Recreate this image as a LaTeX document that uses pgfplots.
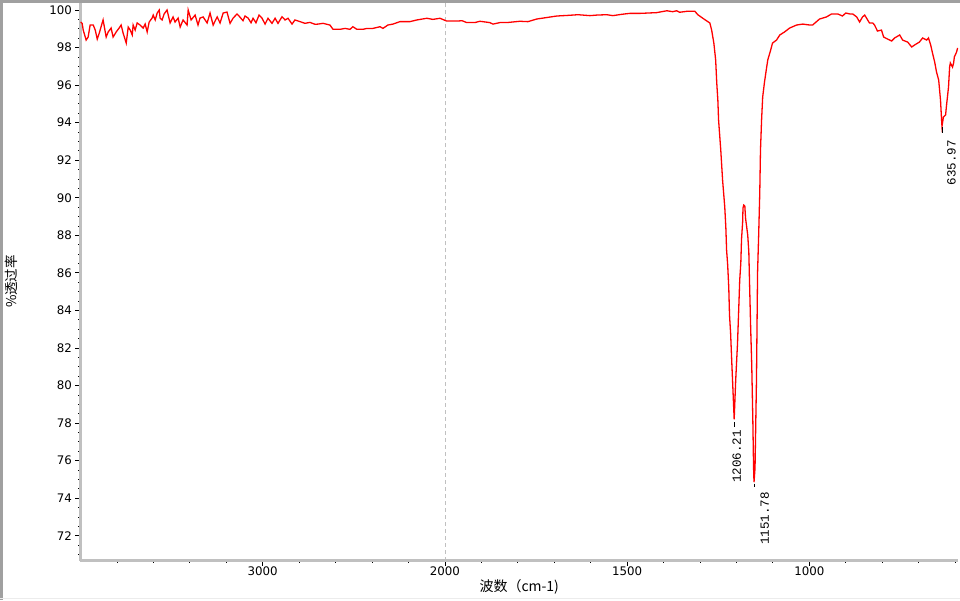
\documentclass[border=0pt]{standalone}
\usepackage{pgfplots}
\pgfplotsset{compat=1.18}
\usepackage{pgfplotstable}
\usepackage{fontspec}
\setmainfont{DejaVu Sans}
\newfontfamily\cjk{Noto Sans CJK SC}
\newfontfamily\monof{Liberation Mono}
\definecolor{axgray}{HTML}{C0C0C0}
\definecolor{framegray}{HTML}{A0A0A0}
\definecolor{specred}{HTML}{FF0000}
\pgfplotstableread{
wn T
4000 99.36
3991 99.29
3985 98.93
3969 98.40
3958 98.56
3947 99.20
3930 99.20
3919 98.93
3908 98.45
3897 98.77
3881 99.31
3876 99.47
3859 98.56
3848 98.83
3832 99.04
3821 98.56
3804 98.83
3788 99.04
3777 99.20
3766 98.77
3749 98.24
3738 99.09
3727 98.93
3716 98.67
3711 99.20
3700 98.93
3689 99.31
3673 99.20
3656 99.04
3645 99.25
3634 98.83
3623 99.36
3607 99.57
3601 99.73
3590 99.47
3579 99.84
3568 100.00
3563 99.57
3552 99.47
3541 99.79
3525 100.00
3508 99.31
3492 99.63
3481 99.36
3464 99.57
3453 99.09
3437 99.47
3415 99.20
3409 100.00
3393 99.47
3371 99.73
3355 99.20
3344 99.57
3327 99.63
3305 99.31
3289 99.84
3272 99.20
3250 99.63
3234 99.31
3217 99.84
3196 99.89
3179 99.29
3163 99.56
3141 99.79
3130 99.68
3108 99.43
3097 99.68
3080 99.57
3064 99.32
3053 99.56
3037 99.32
3020 99.73
3004 99.57
2987 99.25
2971 99.56
2949 99.29
2932 99.56
2916 99.29
2894 99.64
2877 99.47
2861 99.56
2839 99.25
2823 99.47
2795 99.38
2768 99.29
2741 99.34
2713 99.24
2696 99.25
2669 99.29
2631 99.20
2614 98.97
2576 98.97
2548 99.02
2521 98.97
2505 99.11
2483 98.97
2450 98.97
2428 99.02
2395 99.02
2356 99.11
2340 99.02
2313 99.20
2285 99.25
2247 99.38
2192 99.38
2154 99.47
2099 99.56
2066 99.50
2027 99.56
1995 99.41
1967 99.41
1953 99.43
1940 99.33
1918 99.33
1904 99.40
1877 99.33
1868 99.25
1849 99.33
1830 99.33
1794 99.40
1772 99.38
1748 99.52
1734 99.56
1693 99.68
1657 99.72
1635 99.75
1602 99.70
1583 99.73
1556 99.75
1539 99.70
1515 99.77
1493 99.82
1465 99.82
1419 99.86
1391 99.96
1375 99.91
1364 99.96
1356 99.88
1336 99.93
1314 99.93
1306 99.75
1293 99.57
1273 99.31
1268 98.93
1262 98.24
1257 97.34
1254 96.11
1251 95.20
1249 94.14
1243 92.54
1238 90.94
1232 89.50
1229 88.38
1227 87.21
1224 86.41
1221 85.19
1219 83.75
1216 82.79
1213 81.35
1210 79.97
1206.21 78.20
1202 80.29
1197 82.26
1194 83.91
1191 85.61
1188 86.52
1186 87.80
1183 88.70
1182 89.45
1180 89.61
1177 89.56
1175 88.92
1169 88.01
1166 87.11
1164 85.45
1161 83.11
1158 81.09
1155 78.16
1153 75.65
1151.78 74.85
1149 75.60
1145 80.30
1142 86.04
1139 88.01
1136 90.25
1134 92.54
1131 94.14
1128 95.36
1123 96.16
1117 96.96
1114 97.34
1106 97.87
1101 98.24
1090 98.40
1081 98.67
1068 98.83
1054 99.04
1035 99.20
1018 99.25
999 99.20
991 99.20
972 99.52
953 99.63
939 99.79
922 99.79
909 99.68
900 99.84
889 99.79
881 99.79
870 99.63
862 99.36
854 99.63
848 99.73
843 99.57
835 99.31
826 99.31
821 99.20
813 98.88
802 98.93
796 98.56
785 98.45
774 98.35
766 98.51
752 98.67
744 98.40
730 98.29
719 98.03
711 98.14
698 98.29
689 98.51
678 98.40
673 98.51
667 98.14
662 97.71
656 97.23
651 96.70
645 96.27
640 95.20
637 94.14
635.97 93.80
632 94.30
626 94.41
624 94.83
618 95.90
615 96.96
613 97.18
607 96.96
604 97.18
602 97.50
596 97.76
593 97.98
}\spec
\begin{document}
\begin{tikzpicture}[x=1pt,y=1pt]
\useasboundingbox (0,0) rectangle (960,600);
\fill[white] (0,0) rectangle (960,600);
\begin{axis}[
  at={(80.5pt,39.5pt)}, anchor=south west,
  scale only axis, width=877.5pt, height=558pt,
  x dir=reverse,
  xmin=592, xmax=3000, ymin=70.68, ymax=100.4,
  axis lines*=left,
  axis line style={-, line width=3pt, draw=axgray},
  xtick={1000,1500,2000,2500}, xticklabels={1000,1500,2000,3000},
  minor xtick={600,700,...,2900},
  ytick={72,74,...,100},
  minor ytick={71,71.5,...,100},
  tick align=outside,
  tick style={black, line width=0.8pt},
  major tick length=5pt, minor tick length=2pt,
  extra x ticks={2000}, extra x tick labels={},
  extra x tick style={grid=major, major tick length=0pt,
     major grid style={axgray, line width=0.8pt, dash pattern=on 4pt off 3pt}},
  /pgf/number format/assume math mode=true,
  ticklabel style={font=\fontsize{11.8}{13}\selectfont},
  xticklabel style={yshift=2pt},
  xlabel={\cjk 波数（cm-1)},
  ylabel={\cjk \%透过率},
  xlabel style={at={(axis description cs:0.5,-0.0475)}, anchor=center, font=\fontsize{14}{16}\selectfont},
  ylabel style={at={(axis description cs:-0.0792,0.5)}, anchor=center, font=\fontsize{13.5}{15}\selectfont},
  clip=true,
]
\addplot[specred, line width=1.3pt] table[x expr={\thisrow{wn}>2000 ? 2000+(\thisrow{wn}-2000)/2 : \thisrow{wn}}, y=T] {\spec};
\addplot[black, line width=0.8pt, forget plot] coordinates {(1206.21,78.05) (1206.21,77.8)};
\addplot[black, line width=0.8pt, forget plot] coordinates {(1151.78,74.78) (1151.78,74.6)};
\addplot[black, line width=0.8pt, forget plot] coordinates {(635.97,93.75) (635.97,93.45)};
\node[rotate=90, anchor=east, inner sep=0pt, font=\monof\fontsize{12.5}{14}\selectfont] at (axis cs:1199.3,77.62) {1206.21};
\node[rotate=90, anchor=east, inner sep=0pt, font=\monof\fontsize{12.5}{14}\selectfont] at (axis cs:1122.6,74.32) {1151.78};
\node[rotate=90, anchor=east, inner sep=0pt, font=\monof\fontsize{12.5}{14}\selectfont] at (axis cs:609.8,93.07) {635.97};
\end{axis}
\draw[framegray, line width=3pt] (0,598.5) -- (960,598.5);
\draw[framegray, line width=3pt] (1.5,0) -- (1.5,600);
\draw[gray!15, line width=1pt] (0,2) -- (960,2);
\end{tikzpicture}
\end{document}
